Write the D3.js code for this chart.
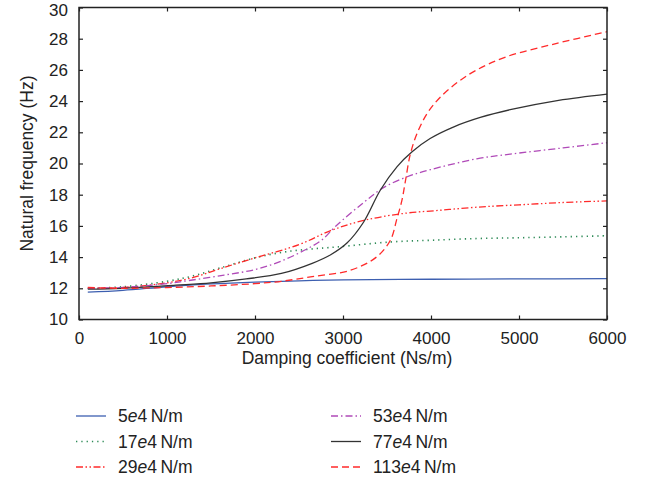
<!DOCTYPE html>
<html><head><meta charset="utf-8">
<script src="https://cdn.jsdelivr.net/npm/d3@7/dist/d3.min.js"></script>
<style>body{margin:0;background:#fff}svg{display:block}</style>
</head><body><svg id="c" width="651" height="486"></svg>
<script>
const xTicks = [0,1000,2000,3000,4000,5000,6000];
const yTicks = [10,12,14,16,18,20,22,24,26,28,30];
const seriesNames = ["5","17","29","53","77","113"];
const s5 = [[100,11.75],[500,11.87],[1000,12.1],[1500,12.28],[2000,12.4],[2500,12.48],[3000,12.54],[4000,12.58],[5000,12.6],[6000,12.62]];
const s17 = [[100,12.0],[500,12.1],[1000,12.45],[1300,12.8],[1600,13.3],[2000,13.95],[2300,14.3],[2600,14.5],[2930,14.65],[3540,14.97],[4000,15.08],[4520,15.19],[5000,15.24],[5500,15.3],[6000,15.37]];
const s29 = [[100,12.0],[500,12.05],[1000,12.35],[1300,12.7],[1600,13.25],[2000,13.95],[2500,14.8],[2860,15.7],[3235,16.35],[3690,16.8],[4100,17.0],[4520,17.2],[5000,17.35],[5500,17.5],[6000,17.6]];
const s53 = [[100,12.0],[500,12.05],[1000,12.3],[1250,12.5],[1650,12.85],[2000,13.2],[2300,13.75],[2600,14.55],[2760,15.1],[2920,16.0],[3235,17.5],[3460,18.45],[3730,19.15],[3990,19.6],[4520,20.3],[4900,20.6],[5500,21.0],[6000,21.33]];
const s77 = [[100,11.95],[500,12.0],[1100,12.2],[1500,12.35],[1900,12.6],[2300,12.95],[2650,13.6],[2860,14.15],[3045,14.9],[3235,16.25],[3425,18.3],[3615,19.8],[3785,20.75],[3990,21.6],[4260,22.35],[4560,22.95],[4900,23.45],[5450,24.05],[6000,24.45]];
const s113 = [[100,12.05],[500,12.0],[1000,12.05],[1500,12.15],[2000,12.3],[2300,12.45],[2650,12.75],[3080,13.15],[3380,14.0],[3540,15.1],[3610,16.4],[3670,17.65],[3710,18.9],[3765,20.6],[3840,21.9],[3955,23.2],[4105,24.25],[4300,25.2],[4520,26.0],[4860,26.85],[5430,27.7],[6000,28.45]];

const svg = d3.select("#c");
const L=79, R=607, T=7.5, B=319.5;
const x = d3.scaleLinear().domain([0,6000]).range([L,R]);
const y = d3.scaleLinear().domain([10,30]).range([B,T]);
const axc = "#222";
const FF = "Liberation Sans";

const styles = [
  {data:s5, color:"#3d5fb0", dash:null, w:1.3},
  {data:s17, color:"#2e8b57", dash:"1.3,4", w:1.6},
  {data:s29, color:"#ff2a2a", dash:"7,2.5,1.5,2.5,1.5,2.5", w:1.3},
  {data:s53, color:"#b04ab8", dash:"7,3,1.5,3", w:1.3},
  {data:s77, color:"#333", dash:null, w:1.3},
  {data:s113, color:"#ff2a2a", dash:"7,4", w:1.3}
];

const line = d3.line().x(d=>x(d[0])).y(d=>y(d[1])).curve(d3.curveCatmullRom.alpha(0.5));
const g = svg.append("g");
styles.forEach(s=>{
  g.append("path").attr("d",line(s.data)).attr("fill","none")
   .attr("stroke",s.color).attr("stroke-width",s.w)
   .attr("stroke-dasharray",s.dash);
});

const fs = 17;
const ax = svg.append("g").attr("transform",`translate(0,${B})`).call(d3.axisBottom(x).tickValues(xTicks).tickSize(-4).tickPadding(12).tickFormat(d3.format("d")));
const ay = svg.append("g").attr("transform",`translate(${L},0)`).call(d3.axisLeft(y).tickValues(yTicks).tickSize(-4).tickPadding(11).tickFormat(d3.format("d")));
const axt = svg.append("g").attr("transform",`translate(0,${T})`).call(d3.axisTop(x).tickValues(xTicks).tickSize(-4).tickFormat(""));
const ayr = svg.append("g").attr("transform",`translate(${R},0)`).call(d3.axisRight(y).tickValues(yTicks).tickSize(-4).tickFormat(""));
[ax,ay,axt,ayr].forEach(a=>{
  a.attr("font-family",FF).attr("font-size",fs);
  a.selectAll(".domain").remove();
  a.selectAll(".tick line").attr("stroke",axc).attr("stroke-width",1.2);
  a.selectAll("text").attr("fill","#222");
});
ay.selectAll("text").filter(d=>d===30).attr("dy","0.45em");
svg.append("rect").attr("x",L).attr("y",T).attr("width",R-L).attr("height",B-T)
  .attr("fill","none").attr("stroke",axc).attr("stroke-width",1.5);

svg.append("text").attr("x",347).attr("y",364).attr("text-anchor","middle").attr("font-family",FF).attr("font-size",17.5).attr("fill","#222").text("Damping coefficient (Ns/m)");
svg.append("text").attr("transform",`translate(33,${(T+B)/2}) rotate(-90)`).attr("text-anchor","middle").attr("font-family",FF).attr("font-size",17.5).attr("fill","#222").text("Natural frequency (Hz)");

const legPos = [[76,416],[76,441.5],[76,467],[331,416],[331,441.5],[331,467]];
styles.forEach((s,i)=>{
  const [lx,ly]=legPos[i];
  svg.append("line").attr("x1",lx).attr("x2",lx+30).attr("y1",ly).attr("y2",ly)
    .attr("stroke",s.color).attr("stroke-width",s.w).attr("stroke-dasharray",s.dash);
  const t = svg.append("text").attr("x",lx+42).attr("y",ly+6).attr("font-family",FF).attr("font-size",17.5).attr("fill","#222");
  t.append("tspan").text(seriesNames[i]);
  t.append("tspan").attr("font-style","italic").text("e");
  t.append("tspan").text("4\u2009N/m");
});
</script></body></html>
